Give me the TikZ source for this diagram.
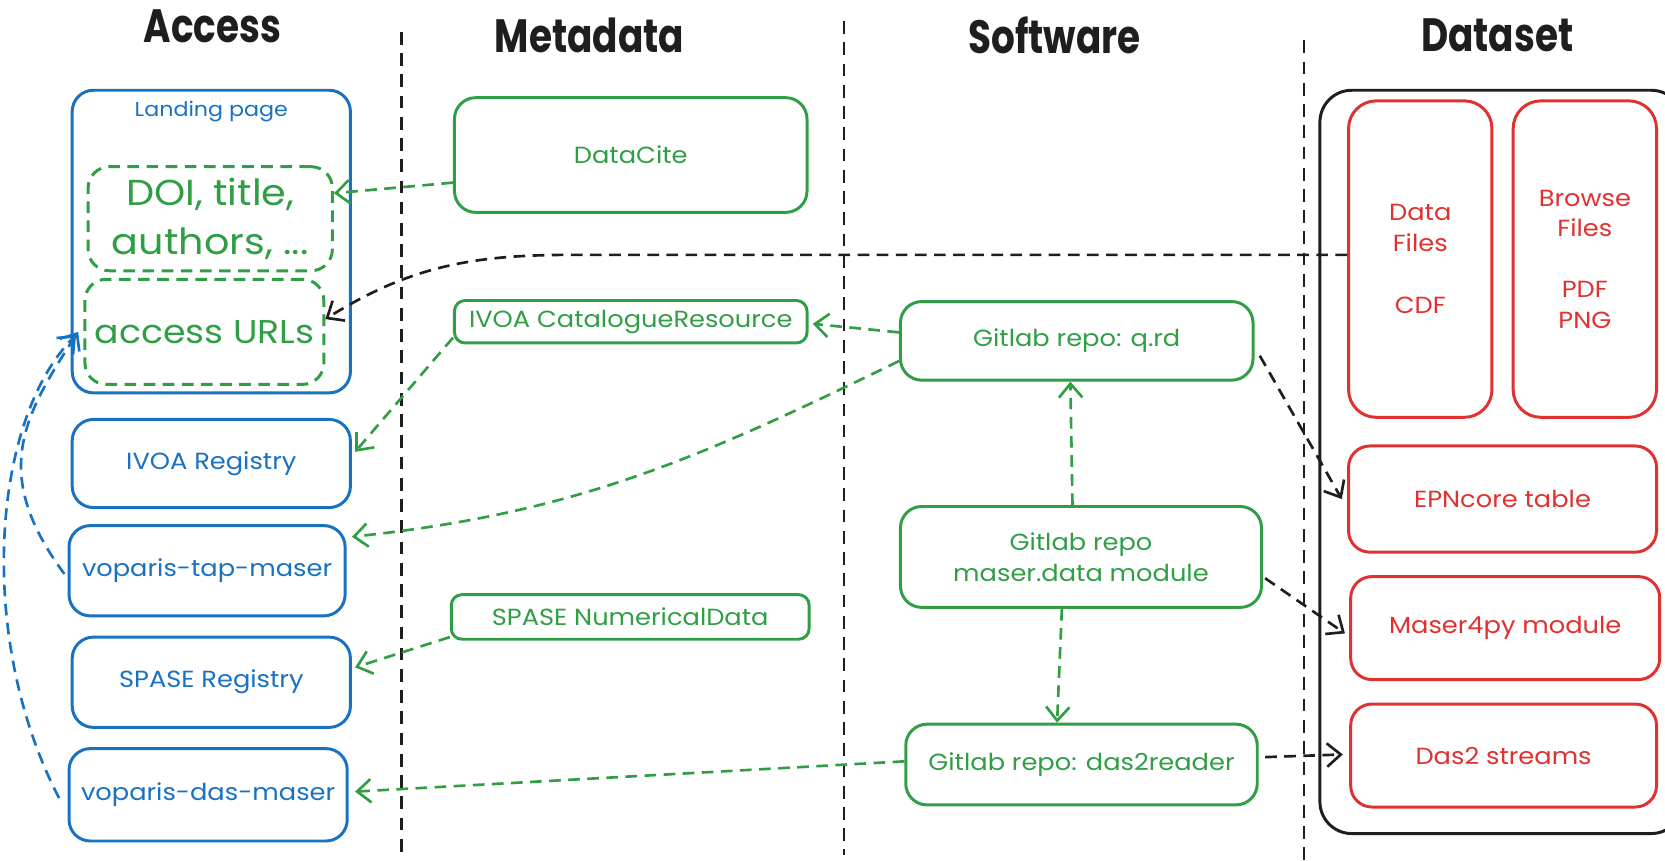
\documentclass[tikz,border=0pt]{standalone}
\usepackage{fontspec}
\setmainfont{Poppins}
\newfontfamily\hand[FakeStretch=1.1]{Poppins}
\usetikzlibrary{arrows.meta,calc}
\definecolor{cblue}{HTML}{1971C2}
\definecolor{cgreen}{HTML}{2F9E44}
\definecolor{cred}{HTML}{E03131}
\definecolor{cblack}{HTML}{1E1E1E}
\tikzset{
  box/.style={rounded corners=20pt, line width=2.8pt, align=center, inner sep=0pt, font=\hand\fontsize{22}{29}\selectfont},
  bbox/.style={box, draw=cblue, text=cblue},
  gbox/.style={box, draw=cgreen, text=cgreen},
  rbox/.style={box, draw=cred, text=cred},
  gdbox/.style={box, draw=cgreen, text=cgreen, dash pattern=on 11pt off 7pt, font=\hand\fontsize{34}{46}\selectfont},
  conn/.style={line width=2.5pt, dash pattern=on 11pt off 7pt, -{Straight Barb[length=13pt,width=22pt]}},
  gconn/.style={conn, draw=cgreen},
  kconn/.style={conn, draw=cblack},
  bconn/.style={conn, draw=cblue},
  ttl/.style={font=\fontsize{44}{44}\selectfont\bfseries, text=cblack, inner sep=0pt},
  vline/.style={line width=2.2pt, dash pattern=on 12pt off 8pt, draw=cblack},
}
\begin{document}
\begin{tikzpicture}[x=1pt,y=-1pt]
\useasboundingbox (0,0) rectangle (1568,810);
% titles
\node[ttl] (tA) at (200,25) {\scalebox{0.8}[1]{Access}};
\node[ttl] (tM) at (555,33) {\scalebox{0.8}[1]{Metadata}};
\node[ttl] (tS) at (993,33) {\scalebox{0.8}[1]{Software}};
\node[ttl] (tD) at (1410,33) {\scalebox{0.8}[1]{Dataset}};
% column separators
\coordinate (v1t) at (378,30); \coordinate (v1b) at (378,805);
\coordinate (v2t) at (795,20); \coordinate (v2b) at (795,805);
\coordinate (v3t) at (1228,38); \coordinate (v3b) at (1228,812);
\draw[vline] (v1t) -- (v1b);
\draw[vline] (v2t) -- (v2b);
\draw[vline] (v3t) -- (v3b);
% Access column
\node[bbox, minimum width=262pt, minimum height=285pt] (LP) at (199,227.5) {};
\node[text=cblue, font=\hand\fontsize{19}{19}\selectfont] (LPl) at (199,105) {Landing page};
\node[gdbox, minimum width=230pt, minimum height=98pt] (DOI) at (198,206) {DOI, title,\\authors, ...};
\node[gdbox, minimum width=225pt, minimum height=99pt, font=\hand\fontsize{31}{40}\selectfont] (URL) at (192.5,312.5) {access URLs};
\node[bbox, minimum width=262pt, minimum height=83pt] (IR) at (199,436.5) {IVOA Registry};
\node[bbox, minimum width=260pt, minimum height=85pt] (TAP) at (195,537.5) {voparis-tap-maser};
\node[bbox, minimum width=262pt, minimum height=85pt] (SR) at (199,642.5) {SPASE Registry};
\node[bbox, minimum width=262pt, minimum height=87pt] (DAS) at (196,748.5) {voparis-das-maser};
% Metadata column
\node[gbox, minimum width=332pt, minimum height=108pt] (DC) at (594,146) {DataCite};
\node[gbox, minimum width=332pt, minimum height=40pt, rounded corners=10pt] (CR) at (594,303) {IVOA CatalogueResource};
\node[gbox, minimum width=337pt, minimum height=42pt, rounded corners=10pt] (ND) at (593.5,581) {SPASE NumericalData};
% Software column
\node[gbox, minimum width=332pt, minimum height=74pt] (QRD) at (1014,321) {Gitlab repo: q.rd};
\node[gbox, minimum width=340pt, minimum height=95pt] (MD) at (1018,524.5) {Gitlab repo\\maser.data module};
\node[gbox, minimum width=331pt, minimum height=76pt] (D2R) at (1018.5,720) {Gitlab repo: das2reader};
% Dataset column
\node[box, draw=cblack, minimum width=342pt, minimum height=700pt, rounded corners=30pt] (DS) at (1414,435) {};
\node[rbox, minimum width=135pt, minimum height=298pt, rounded corners=26pt] (DF) at (1337.5,244) {Data\\Files\\[30pt]CDF};
\node[rbox, minimum width=135pt, minimum height=298pt, rounded corners=26pt] (BF) at (1492.5,244) {Browse\\Files\\[28pt]PDF\\PNG};
\node[rbox, minimum width=290pt, minimum height=100pt] (EPN) at (1415,470) {EPNcore table};
\node[rbox, minimum width=291pt, minimum height=97pt] (M4P) at (1417.5,591.5) {Maser4py module};
\node[rbox, minimum width=288pt, minimum height=97pt] (DS2) at (1416,711.5) {Das2 streams};
% connectors
\draw[gconn] ([yshift=-26pt]DC.west) -- ([yshift=24pt]DOI.east);
\draw[kconn] ([yshift=4pt]DF.west) -- ++(-730,0) to[out=180,in=32] ([yshift=12pt]URL.east);
\draw[gconn] ([yshift=8pt]QRD.west) -- ([xshift=4pt,yshift=-2pt]CR.east);
\draw[gconn] ([yshift=-15pt]CR.west) -- ([xshift=3pt,yshift=11pt]IR.east);
\draw[gconn] ([yshift=-19pt]QRD.west) to[out=206,in=6] ([xshift=5pt,yshift=32pt]TAP.east);
\draw[gconn] ([yshift=-19pt]ND.west) -- ([xshift=3pt,yshift=14pt]SR.east);
\draw[gconn] ([yshift=3pt]D2R.west) -- ([xshift=6pt,yshift=3pt]DAS.east);
\draw[gconn] ([xshift=-8pt]MD.north) -- ([xshift=-6pt]QRD.south);
\draw[gconn] ([xshift=-18pt]MD.south) -- ([xshift=-23pt]D2R.north);
\draw[kconn] ([xshift=5pt,yshift=-14pt]QRD.east) -- ([xshift=-5pt]EPN.west);
\draw[kconn] ([xshift=2pt,yshift=-20pt]MD.east) -- ([xshift=-4pt,yshift=-5pt]M4P.west);
\draw[kconn] ([xshift=6pt,yshift=7pt]D2R.east) -- ([xshift=-6pt,yshift=1pt]DS2.west);
\draw[bconn] ([xshift=-3pt,yshift=-3pt]TAP.west) .. controls +(-70,-95) and +(-52,80) .. ([xshift=7pt,yshift=-85pt]LP.west);
\draw[bconn] ([xshift=-8pt,yshift=-3pt]DAS.west) .. controls +(-78,-150) and +(-80,80) .. ([xshift=5pt,yshift=-88pt]LP.west);
\end{tikzpicture}
\end{document}
